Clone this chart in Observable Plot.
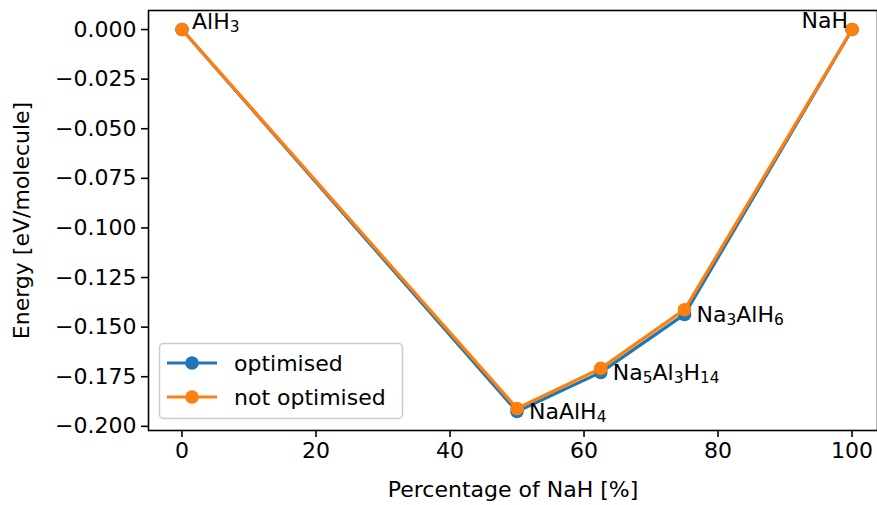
<!DOCTYPE html>
<html>
<head>
<meta charset="utf-8">
<script src="https://cdn.jsdelivr.net/npm/d3@7"></script>
<script src="https://cdn.jsdelivr.net/npm/@observablehq/plot@0.6"></script>
<style>
  html, body { margin: 0; padding: 0; background: #fff; }
  svg { font-family: "DejaVu Sans", sans-serif; }
</style>
</head>
<body>
<div id="chart"></div>
<script>
const percentNaH = [0, 50, 62.5, 75, 100];
const compounds = ["AlH3", "NaAlH4", "Na5Al3H14", "Na3AlH6", "NaH"];
const optimised = [0.000, -0.1925, -0.1728, -0.1436, 0.000];
const notOptimised = [0.000, -0.1910, -0.1708, -0.1412, 0.000];
const seriesNames = ["optimised", "not optimised"];
const seriesColors = ["#1f77b4", "#ff7f0e"];
const xTicks = [0, 20, 40, 60, 80, 100];
const yTicks = [-0.200, -0.175, -0.150, -0.125, -0.100, -0.075, -0.050, -0.025, 0.000];

const FS = 22;
const rows = [];
seriesNames.forEach((s, si) => {
  const vals = si === 0 ? optimised : notOptimised;
  percentNaH.forEach((p, i) => rows.push({series: s, x: p, y: vals[i], label: compounds[i], idx: i}));
});
const opt = rows.filter(d => d.series === "optimised");
const notOpt = rows.filter(d => d.series === "not optimised");
const interior = opt.filter(d => d.idx > 0 && d.idx < 4);

const fmt = d => (d < 0 ? "\u2212" : "") + Math.abs(d).toFixed(3);

const chart = Plot.plot({
  width: 877,
  height: 505,
  marginLeft: 148,
  marginRight: 0,
  marginTop: 10,
  marginBottom: 75,
  style: {fontFamily: "DejaVu Sans, sans-serif", fontSize: FS + "px", color: "black", background: "white"},
  x: {domain: [-5, 103.8]},
  y: {domain: [-0.2021, 0.0096]},
  marks: [
    Plot.axisX({ticks: xTicks, tickSize: 7, tickPadding: 5, fontSize: FS, stroke: "black", strokeWidth: 1.6,
      label: "Percentage of NaH [%]", labelAnchor: "center", labelArrow: "none", labelOffset: 66}),
    Plot.axisY({ticks: yTicks, tickFormat: fmt, tickSize: 7, tickPadding: 5, fontSize: FS, stroke: "black", strokeWidth: 1.6,
      label: "Energy [eV/molecule]", labelAnchor: "center", labelArrow: "none", labelOffset: 135}),
    Plot.line(opt, {x: "x", y: "y", stroke: seriesColors[0], strokeWidth: 3.2}),
    Plot.dot(opt, {x: "x", y: "y", fill: seriesColors[0], r: 6.8}),
    Plot.line(notOpt, {x: "x", y: "y", stroke: seriesColors[1], strokeWidth: 3.2}),
    Plot.dot(notOpt, {x: "x", y: "y", fill: seriesColors[1], r: 6.8}),
    Plot.text(opt.filter(d => d.idx === 0), {x: "x", y: "y", text: "label", textAnchor: "start", lineAnchor: "bottom", dx: 10, dy: -1, fontSize: FS, fill: "black"}),
    Plot.text(interior, {x: "x", y: "y", text: "label", textAnchor: "start", lineAnchor: "bottom", dx: 12, dy: 8, fontSize: FS, fill: "black"}),
    Plot.text(opt.filter(d => d.idx === 4), {x: "x", y: "y", text: "label", textAnchor: "end", lineAnchor: "bottom", dx: -4, dy: -2, fontSize: FS, fill: "black"}),
    Plot.frame({stroke: "black", strokeWidth: 1.6})
  ]
});

const svg = d3.select(chart);

// chemical formulas: render digits as subscripts
svg.selectAll("text").each(function() {
  const t = d3.select(this);
  const s = this.textContent;
  if (!compounds.includes(s) || this.children.length) return;
  t.text(null);
  const parts = s.match(/\d+|\D+/g);
  let sub = false;
  parts.forEach(p => {
    const isNum = /^\d+$/.test(p);
    const ts = t.append("tspan").text(p);
    if (isNum) { ts.attr("font-size", "0.7em").attr("baseline-shift", "-22%"); }
  });
});

const lg = svg.append("g");
lg.append("rect").attr("x", 159.5).attr("y", 343.5).attr("width", 243).attr("height", 75)
  .attr("rx", 4).attr("fill", "white").attr("fill-opacity", 0.8).attr("stroke", "#cccccc").attr("stroke-width", 1.5);
seriesNames.forEach((s, i) => {
  const yy = 363 + i * 34;
  lg.append("line").attr("x1", 167).attr("x2", 217).attr("y1", yy).attr("y2", yy)
    .attr("stroke", seriesColors[i]).attr("stroke-width", 3.2);
  lg.append("circle").attr("cx", 192).attr("cy", yy).attr("r", 6.8).attr("fill", seriesColors[i]);
  lg.append("text").attr("x", 234).attr("y", yy).attr("dy", "0.35em").attr("font-size", FS)
    .attr("text-anchor", "start").attr("fill", "black").text(s);
});

document.getElementById("chart").appendChild(chart);
</script>
</body>
</html>
